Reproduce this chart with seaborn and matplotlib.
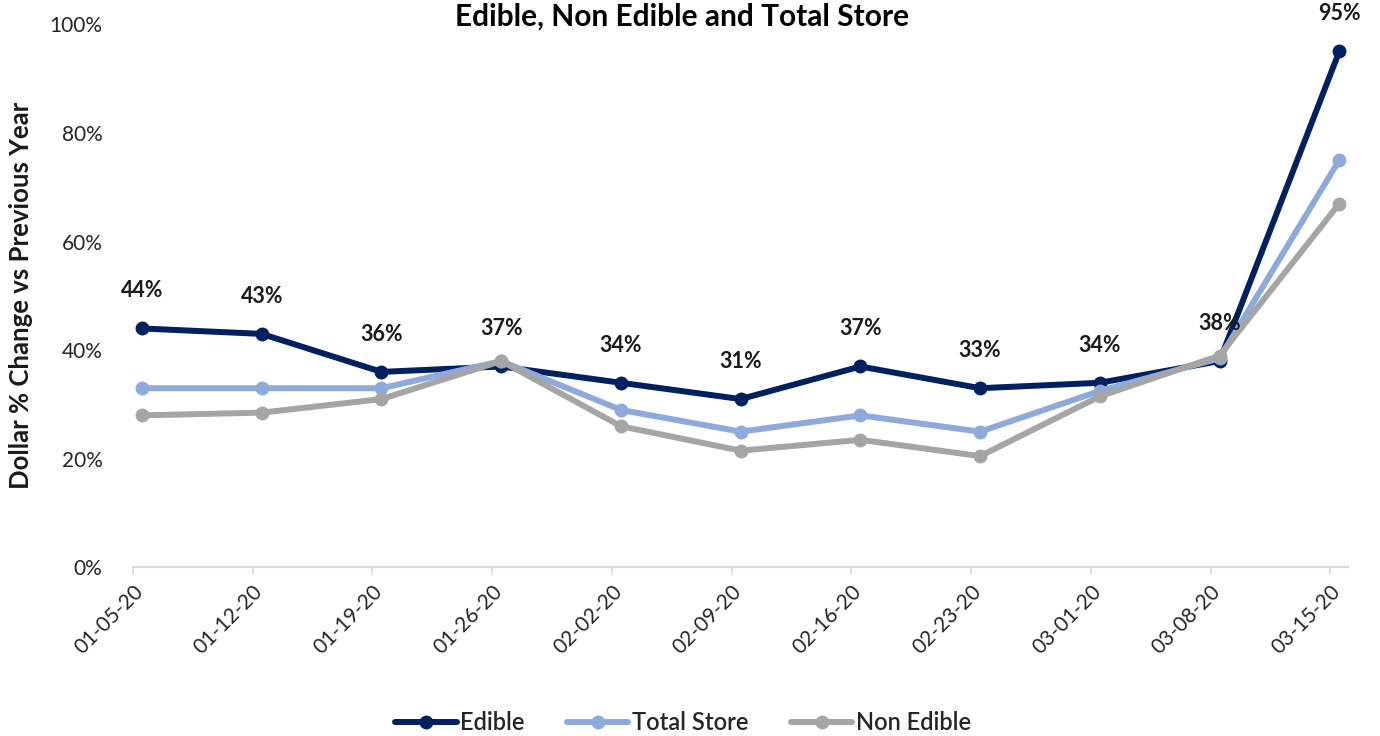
import matplotlib
matplotlib.use("Agg")
import matplotlib.pyplot as plt
from matplotlib.lines import Line2D
import seaborn as sns
import numpy as np
import pandas as pd

weeks = ["01-05-20", "01-12-20", "01-19-20", "01-26-20", "02-02-20", "02-09-20",
         "02-16-20", "02-23-20", "03-01-20", "03-08-20", "03-15-20"]
edible = [44, 43, 36, 37, 34, 31, 37, 33, 34, 38, 95]
total_store = [33, 33, 33, 38, 29, 25, 28, 25, 32.5, 38.5, 75]
non_edible = [28, 28.5, 31, 38, 26, 21.5, 23.5, 20.5, 31.5, 39, 67]
y_ticks = [0, 20, 40, 60, 80, 100]

series_names = ["Edible", "Total Store", "Non Edible"]
colors = {"Edible": "#002060", "Total Store": "#8EA9DB", "Non Edible": "#A5A5A5"}

idx = np.arange(len(weeks))
df = pd.concat([
    pd.DataFrame({"pos": idx, "week": weeks, "value": vals, "series": name})
    for name, vals in zip(series_names, [edible, total_store, non_edible])
], ignore_index=True)

sns.set_theme(style="white")
plt.rcParams["font.family"] = ["Lato", "DejaVu Sans"]

LW = 4.3
MS = 10

fig = plt.figure(figsize=(13.8, 7.36), dpi=100)
ax = fig.add_axes([0.0964, 0.229, 0.8806, 0.738])

sns.lineplot(data=df, x="pos", y="value", hue="series", hue_order=series_names,
             palette=colors, marker="o", markersize=MS, markeredgewidth=0,
             linewidth=LW, ax=ax, legend=False, sort=False)

# value labels above the Edible line
for x, v in zip(idx, edible):
    ax.annotate(f"{v}%", (x, v), xytext=(0, 27), textcoords="offset points",
                ha="center", va="center", fontsize=15.5, color="#1a1a1a",
                fontweight="bold", annotation_clip=False)

off = 0.075
ax.set_xlim(-off, len(weeks) - 1 + off)
ax.set_ylim(0, 100)
ax.set_xticks(idx - off)
ax.set_xticklabels(weeks, rotation=45, ha="right", rotation_mode="anchor",
                   fontsize=15, color="#262626")
ax.set_yticks(y_ticks)
ax.set_yticklabels([f"{t}%" for t in y_ticks], fontsize=15, color="#262626")
ax.tick_params(axis="x", which="both", bottom=True, length=6, width=1.2,
               color="#d9d9d9", pad=4)
ax.tick_params(axis="y", left=False, pad=16)

for s in ["top", "right", "left"]:
    ax.spines[s].set_visible(False)
ax.spines["bottom"].set_color("#d9d9d9")
ax.spines["bottom"].set_linewidth(1.5)
ax.grid(False)

ax.set_xlabel("")
ax.set_ylabel("Dollar % Change vs Previous Year", fontsize=18.5, fontweight="bold",
              color="#1a1a1a", labelpad=12)

fig.text(0.494, 0.978, "Edible, Non Edible and Total Store", ha="center", va="center",
         fontsize=21.5, fontweight="bold", color="#000000")

handles = [Line2D([0], [0], color=colors[n], linewidth=LW, marker="o", markersize=MS,
                  markeredgewidth=0) for n in series_names]
fig.legend(handles, series_names, loc="center", bbox_to_anchor=(0.495, 0.018),
           ncol=3, frameon=False, handlelength=2.6, handletextpad=0.15,
           columnspacing=1.8, prop={"size": 17, "weight": "semibold"})

fig.savefig("out.png", dpi=100)
